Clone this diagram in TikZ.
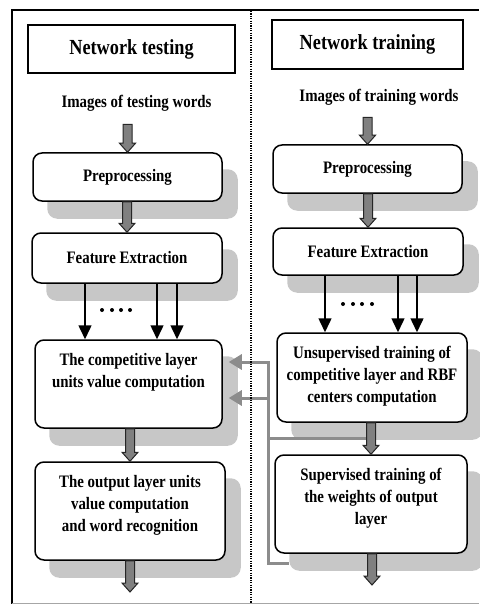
\documentclass[tikz,border=0pt]{standalone}
\usepackage{fontspec}
\setmainfont{Liberation Serif}[FakeStretch=0.85]
\usetikzlibrary{arrows.meta,backgrounds,calc}

\tikzset{
  titlebox/.style={draw, line width=1.4pt, fill=white, inner sep=0pt,
    font=\bfseries\fontsize{21.5}{24}\selectfont},
  procbox/.style={draw, line width=1.5pt, rounded corners=9pt, fill=white,
    inner sep=0pt, align=center, font=\bfseries\fontsize{17.5}{22}\selectfont},
  caption/.style={inner sep=1pt, font=\bfseries\fontsize{17.5}{22}\selectfont},
  shade/.style={fill=black!22, rounded corners=10pt},
  flow/.style={draw=black!85, fill=black!50, line width=1pt, line join=miter},
  tap/.style={line width=1.5pt, -{Triangle[width=13pt,length=14pt]}},
  feedback/.style={draw=black!45, line width=3pt, line cap=rect},
  feedarrow/.style={draw=black!45, line width=3pt,
    -{Triangle[width=15pt,length=13pt]}, shorten >=6pt},
}

% hollow-looking block arrow pointing down from (#1) to (#2), on the x of (#2)
\newcommand{\flowdown}[2]{%
  \draw[flow] let \p1=(#1), \p2=(#2) in
    (\x2-4.5pt,\y1) -- (\x2+4.5pt,\y1) -- (\x2+4.5pt,\y2+9pt)
    -- (\x2+8pt,\y2+9pt) -- (\x2,\y2) -- (\x2-8pt,\y2+9pt)
    -- (\x2-4.5pt,\y2+9pt) -- cycle;
}

% text block with its first baseline 25pt below the top of the box
\newcommand{\toptext}[3]{\parbox[c][#2][t]{#1}{\centering\rule{0pt}{25pt}#3}}

\begin{document}
\begin{tikzpicture}[x=1pt,y=-1pt]
\useasboundingbox (0,0) rectangle (479,604);

% frame and column separator
\draw[line width=2pt] (12,604) -- (12,10) -- (479,10);
\draw[black!35, line width=1pt] (12,603) -- (479,603);
\draw[line width=1.3pt, dash pattern=on 1.2pt off 1.2pt] (251,11) -- (251,604);

% ---- testing column
\node[titlebox, minimum width=207pt, minimum height=48pt] (ltitle) at (131.5,49) {Network testing};
\node[caption] (limg) at (136.5,103) {Images of testing words};
\node[procbox, minimum width=189pt, minimum height=48pt] (lpre) at (127.5,177) {Preprocessing};
\node[procbox, minimum width=190pt, minimum height=50pt] (lfeat) at (127,258) {Feature Extraction};
\node[procbox] (lcomp) at (128.5,384)
  {\toptext{187pt}{88pt}{The competitive layer\\units value computation}};
\node[procbox] (lout) at (130,511)
  {\toptext{190pt}{98pt}{The output layer units\\value computation\\and word recognition}};
\coordinate (lend) at (130,592);

% ---- training column
\node[titlebox, minimum width=191pt, minimum height=49pt] (rtitle) at (367.5,44.5) {Network training};
\node[caption] (rimg) at (379,97) {Images of training words};
\node[procbox, minimum width=189pt, minimum height=48pt] (rpre) at (367.5,169) {Preprocessing};
\node[procbox, minimum width=190pt, minimum height=47pt] (rfeat) at (368,251.5) {Feature Extraction};
\node[procbox] (runsup) at (372,377.5)
  {\toptext{190pt}{89pt}{Unsupervised training of\\competitive layer and RBF\\centers computation}};
\node[procbox] (rsup) at (371,504)
  {\toptext{192pt}{98pt}{Supervised training of\\the weights of output\\layer}};
\coordinate (rend) at (372,585);

% ---- drop shadows and feedback links behind the boxes
\begin{scope}[on background layer]
  \foreach \n in {lpre,lfeat,lcomp,lout,rpre,rfeat,runsup,rsup}
    \fill[shade] ([shift={(15pt,-17pt)}]\n.south west) rectangle ([shift={(15pt,-17pt)}]\n.north east);
  \coordinate (j1) at (268,362);
  \coordinate (j2) at (268,398);
  \coordinate (j3) at (268,438);
  \coordinate (j4) at (268,563);
  \draw[feedback] (j1) -- (j4);
  \draw[feedback] (j3) -- (j3 -| runsup.south);
  \draw[feedback] (j4) -- ([xshift=13pt]j4 -| rsup.west);
  \draw[feedarrow] (j1) -- (j1 -| lcomp.east);
  \draw[feedarrow] (j2) -- (j2 -| lcomp.east);
\end{scope}

% ---- block arrows
\flowdown{[yshift=-12pt]limg.south}{lpre.north}
\flowdown{lpre.south}{lfeat.north}
\flowdown{lcomp.south}{lout.north}
\flowdown{lout.south}{lend}
\flowdown{[yshift=-11pt]rimg.south}{rpre.north}
\flowdown{rpre.south}{rfeat.north}
\flowdown{runsup.south}{rsup.north}
\flowdown{rsup.south}{rend}

% ---- feature vectors into the first layer
\foreach \dx in {-42,30,50}
  \draw[tap] ([xshift=\dx pt]lfeat.south) -- ([xshift=\dx pt]lfeat.south |- lcomp.north);
\foreach \dx in {-43,30,49}
  \draw[tap] ([xshift=\dx pt]rfeat.south) -- ([xshift=\dx pt]rfeat.south |- runsup.north);
\foreach \x in {102,112,121,130}
  \fill (\x,310) circle (2pt);
\foreach \x in {343,353,362,372}
  \fill (\x,304) circle (2pt);
\end{tikzpicture}
\end{document}
